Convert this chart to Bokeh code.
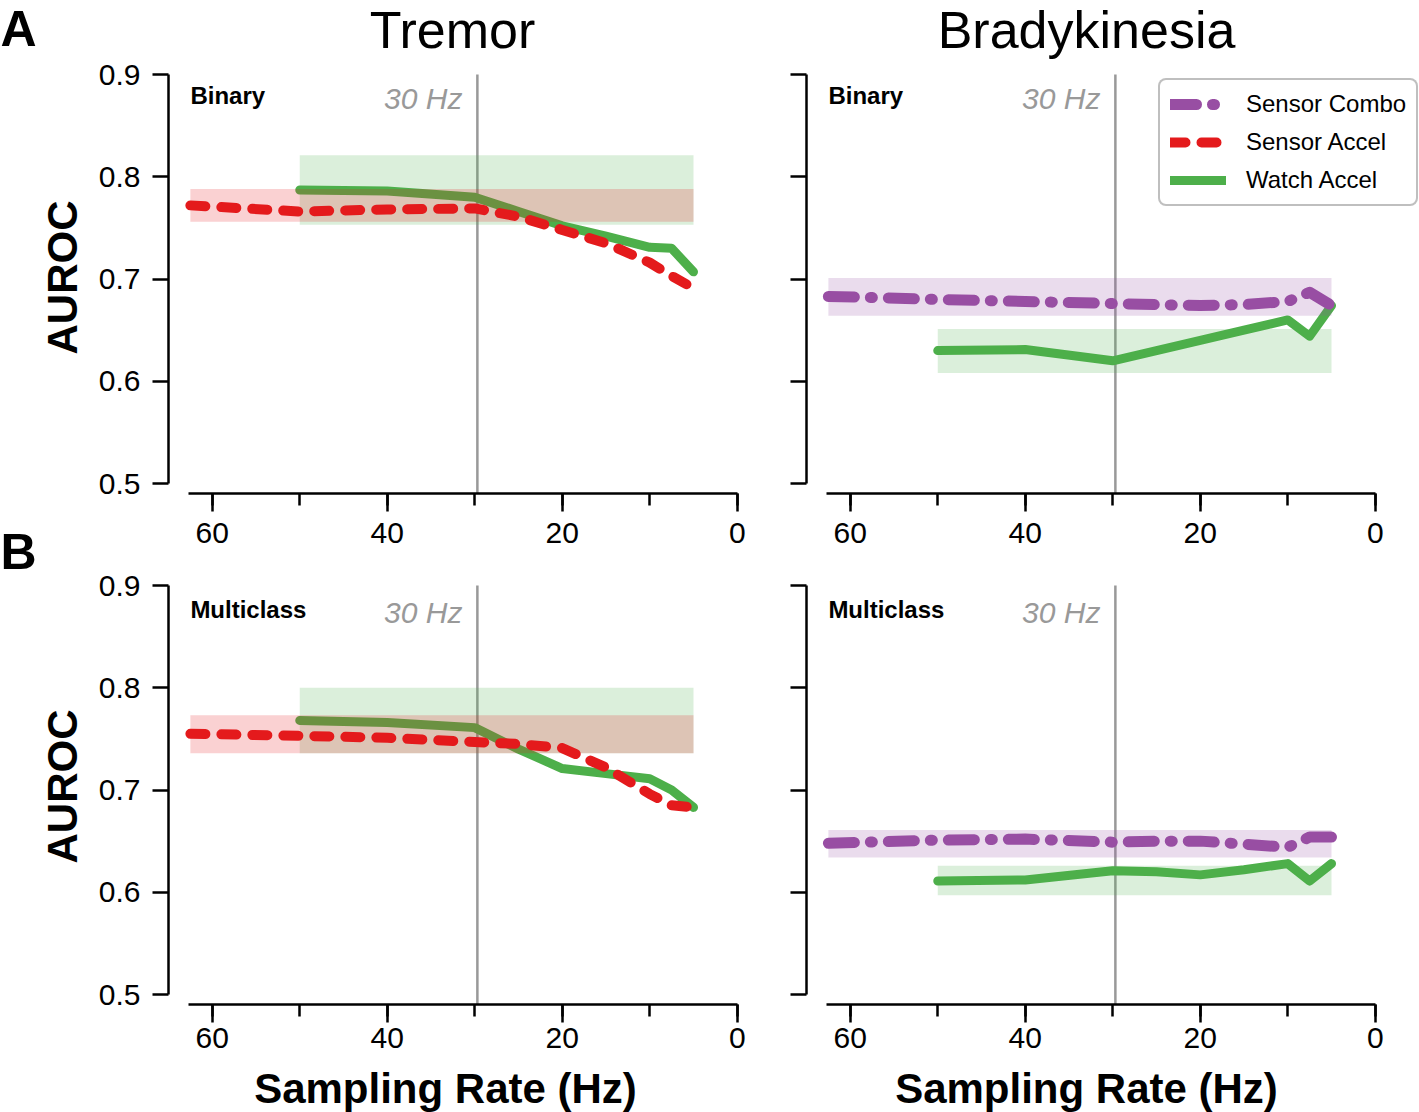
import math
from bokeh.plotting import figure
from bokeh.layouts import row, column
from bokeh.models import (Range1d, FixedTicker, SingleIntervalTicker, PrintfTickFormatter,
                          CustomJSTickFormatter, Label, Legend, LegendItem)
from bokeh.embed import file_html
from bokeh.resources import INLINE

# ---------------- data ----------------
rates_sensor = [62.5, 50, 40, 30, 25, 20, 15, 10, 7.5, 5]
rates_watch = [50, 40, 30, 25, 20, 15, 10, 7.5, 5]

tremor_bin_accel = [0.772, 0.766, 0.768, 0.769, 0.761, 0.748, 0.735, 0.716, 0.703, 0.691]
tremor_bin_watch = [0.787, 0.786, 0.780, 0.766, 0.752, 0.742, 0.731, 0.730, 0.707]
brady_bin_combo = [0.683, 0.680, 0.678, 0.676, 0.675, 0.674, 0.675, 0.678, 0.687, 0.674]
brady_bin_watch = [0.630, 0.631, 0.620, 0.630, 0.640, 0.650, 0.660, 0.644, 0.674]
tremor_multi_accel = [0.755, 0.753, 0.751, 0.747, 0.745, 0.741, 0.722, 0.696, 0.685, 0.683]
tremor_multi_watch = [0.768, 0.766, 0.761, 0.740, 0.721, 0.716, 0.711, 0.700, 0.683]
brady_multi_combo = [0.648, 0.651, 0.652, 0.649, 0.650, 0.650, 0.647, 0.644, 0.654, 0.654]
brady_multi_watch = [0.611, 0.612, 0.621, 0.620, 0.617, 0.622, 0.628, 0.611, 0.628]

# shaded bands (low, high)
tremor_bin_accel_band = [0.756, 0.788]
tremor_bin_watch_band = [0.753, 0.821]
brady_bin_combo_band = [0.664, 0.701]
brady_bin_watch_band = [0.608, 0.651]
tremor_multi_accel_band = [0.736, 0.773]
tremor_multi_watch_band = [0.736, 0.800]
brady_multi_combo_band = [0.634, 0.661]
brady_multi_watch_band = [0.597, 0.626]

y_ticks = [0.5, 0.6, 0.7, 0.8, 0.9]
ref_line_hz = 29.7
ref_label = "30 Hz"
series_names = ["Sensor Combo", "Sensor Accel", "Watch Accel"]
col_titles = ["Tremor", "Bradykinesia"]
row_letters = ["A", "B"]
row_tasks = ["Binary", "Multiclass"]
x_title = "Sampling Rate (Hz)"
y_title = "AUROC"

# ---------------- style ----------------
RED = "#E41A1C"
GREEN = "#4DAF4A"
PURPLE = "#984EA3"
GREY = "#999999"
FONT = "Liberation Sans"
PX_PER_HZ = 8.75
PX_PER_UNIT = 1022.5
X_START = 65.0
Y_LOW = 0.9 - 419 / PX_PER_UNIT
PAGE_H = 1112
LEFT_W = 90
TOP_FIG_H = 567          # 493 frame + 74 border
BOT_FRAME_H = 437
BOT_BORDER = 60

styles = {
    "Sensor Combo": dict(color=PURPLE, width=11, dash="26 16 2 16"),
    "Sensor Accel": dict(color=RED, width=10, dash="15 16"),
    "Watch Accel": dict(color=GREEN, width=9, dash="solid"),
}


def make_panel(frame_w, frame_h, y_top, b_left, b_right, b_bottom, show_ylabels, xstand):
    x_end = X_START - frame_w / PX_PER_HZ
    p = figure(frame_width=frame_w, frame_height=frame_h,
               x_range=Range1d(X_START, x_end), y_range=Range1d(Y_LOW, y_top),
               output_backend="svg", toolbar_location=None,
               min_border_left=b_left, min_border_right=b_right,
               min_border_top=0, min_border_bottom=b_bottom,
               background_fill_color="white", border_fill_color="white",
               outline_line_color=None)
    p.xgrid.visible = False
    p.ygrid.visible = False

    xa = p.xaxis[0]
    xa.ticker = SingleIntervalTicker(interval=20, num_minor_ticks=2)
    xa.bounds = (0, 62.7)
    xa.axis_line_width = 2.5
    xa.major_tick_line_width = 2.5
    xa.minor_tick_line_width = 2.5
    xa.major_tick_out = 18
    xa.major_tick_in = 0
    xa.minor_tick_out = 12
    xa.minor_tick_in = 0
    xa.major_label_text_font = FONT
    xa.major_label_text_font_size = "30px"
    xa.major_label_text_color = "black"
    xa.major_label_standoff = xstand
    xa.axis_line_color = "black"
    xa.major_tick_line_color = "black"
    xa.minor_tick_line_color = "black"

    ya = p.yaxis[0]
    ya.ticker = FixedTicker(ticks=y_ticks, minor_ticks=[])
    ya.bounds = (0.5, 0.9)
    ya.axis_line_width = 2.5
    ya.major_tick_line_width = 2.5
    ya.major_tick_out = 16
    ya.major_tick_in = 0
    ya.minor_tick_out = 0
    ya.minor_tick_in = 0
    ya.major_label_text_font = FONT
    ya.major_label_text_font_size = "30px"
    ya.major_label_text_color = "black"
    ya.major_label_standoff = 12
    ya.axis_line_color = "black"
    ya.major_tick_line_color = "black"
    if show_ylabels:
        ya.formatter = PrintfTickFormatter(format="%.1f")
    else:
        ya.formatter = CustomJSTickFormatter(code="return ''")
    return p


def text_strip(w, h, x0):
    p = figure(width=w, height=h, x_range=Range1d(x0, x0 + w), y_range=Range1d(0, h),
               output_backend="svg", toolbar_location=None,
               x_axis_type=None, y_axis_type=None,
               min_border_left=0, min_border_right=0, min_border_top=0, min_border_bottom=0,
               background_fill_color="white", border_fill_color="white",
               outline_line_color=None)
    p.xgrid.visible = False
    p.ygrid.visible = False
    return p


def add_series(p, name, rates, vals, band):
    st = styles[name]
    p.quad(left=[min(rates)], right=[max(rates)], bottom=[band[0]], top=[band[1]],
           fill_color=st["color"], fill_alpha=0.2, line_color=None)
    r = p.line(rates, vals, line_color=st["color"], line_width=st["width"],
               line_dash=st["dash"], line_cap="round", line_join="round")
    return r


def add_refline(p, row_i):
    p.segment(x0=[ref_line_hz], y0=[Y_LOW], x1=[ref_line_hz], y1=[0.9],
              line_color=GREY, line_width=2.5)
    p.add_layout(Label(x=ref_line_hz, y=0.9, x_offset=-15, y_offset=(-24 if row_i == 0 else -27),
                       text=ref_label, text_font=FONT, text_font_size="30px",
                       text_font_style="italic", text_color=GREY,
                       text_align="right", text_baseline="middle"))
    p.add_layout(Label(x=62.5, y=0.9, y_offset=(-21 if row_i == 0 else -24),
                       text=row_tasks[row_i], text_font=FONT, text_font_size="24px",
                       text_font_style="bold", text_color="black",
                       text_align="left", text_baseline="middle"))


TOP_Y = 0.9 + 74 / PX_PER_UNIT
BOT_Y = 0.9 + 18 / PX_PER_UNIT

# ---------------- top-left: Tremor binary ----------------
tl = make_panel(575, 493, TOP_Y, 78, 4, 74, True, 11)
add_refline(tl, 0)
add_series(tl, "Watch Accel", rates_watch, tremor_bin_watch, tremor_bin_watch_band)
add_series(tl, "Sensor Accel", rates_sensor, tremor_bin_accel, tremor_bin_accel_band)
tl.add_layout(Label(x=32.54, y=0.9, y_offset=45, text=col_titles[0], text_font=FONT,
                    text_font_size="52px", text_align="center", text_baseline="middle",
                    text_color="black"))

# ---------------- top-right: Bradykinesia binary ----------------
tr = make_panel(612, 493, TOP_Y, 59, 0, 74, False, 11)
add_refline(tr, 0)
r_watch = add_series(tr, "Watch Accel", rates_watch, brady_bin_watch, brady_bin_watch_band)
r_combo = add_series(tr, "Sensor Combo", rates_sensor, brady_bin_combo, brady_bin_combo_band)
st = styles["Sensor Accel"]
# legend key only (no Sensor Accel series for bradykinesia): hidden renderer
r_accel_key = tr.line(rates_sensor, tremor_bin_accel, line_color=st["color"],
                      line_width=st["width"], line_dash=st["dash"],
                      line_cap="round", line_join="round")
r_accel_key.visible = False
tr.add_layout(Label(x=33.0, y=0.9, y_offset=45, text=col_titles[1], text_font=FONT,
                    text_font_size="52px", text_align="center", text_baseline="middle",
                    text_color="black"))
legend = Legend(items=[LegendItem(label=series_names[0], renderers=[r_combo]),
                       LegendItem(label=series_names[1], renderers=[r_accel_key]),
                       LegendItem(label=series_names[2], renderers=[r_watch])],
                location=(352, 287), orientation="vertical", click_policy="none",
                label_text_font=FONT, label_text_font_size="24px", label_text_color="black",
                glyph_width=56, glyph_height=28, label_height=28, label_standoff=20,
                spacing=10, padding=10, margin=0,
                border_line_color="#808080", border_line_width=2,
                background_fill_color="white", background_fill_alpha=1.0)
try:
    legend.border_radius = 8
except Exception:
    pass
tr.add_layout(legend)

# ---------------- bottom-left: Tremor multiclass ----------------
bl = make_panel(575, BOT_FRAME_H, BOT_Y, 78, 4, BOT_BORDER, True, 5)
add_refline(bl, 1)
add_series(bl, "Watch Accel", rates_watch, tremor_multi_watch, tremor_multi_watch_band)
add_series(bl, "Sensor Accel", rates_sensor, tremor_multi_accel, tremor_multi_accel_band)

# ---------------- bottom-right: Bradykinesia multiclass ----------------
br = make_panel(612, BOT_FRAME_H, BOT_Y, 59, 0, BOT_BORDER, False, 5)
add_refline(br, 1)
add_series(br, "Watch Accel", rates_watch, brady_multi_watch, brady_multi_watch_band)
add_series(br, "Sensor Combo", rates_sensor, brady_multi_combo, brady_multi_combo_band)

# ---------------- outer texts: panel letters and axis titles ----------------
left_strip = text_strip(LEFT_W, PAGE_H, 0)
for letter, cy in zip(row_letters, [28, 551]):
    left_strip.add_layout(Label(x=0, y=PAGE_H - cy, text=letter, text_font=FONT,
                                text_font_size="50px", text_font_style="bold",
                                text_align="left", text_baseline="middle",
                                text_color="black"))
for cy in [277, 786]:
    left_strip.add_layout(Label(x=62, y=PAGE_H - cy, text=y_title, text_font=FONT,
                                text_font_size="42px", text_font_style="bold",
                                angle=math.pi / 2, text_align="center",
                                text_baseline="middle", text_color="black"))

panels_w = (78 + 575 + 4) + (59 + 612)
bottom_top = TOP_FIG_H + BOT_FRAME_H + BOT_BORDER
bottom_h = PAGE_H - bottom_top
bottom_strip = text_strip(panels_w, bottom_h, LEFT_W)
for cx in [445, 1086]:
    bottom_strip.add_layout(Label(x=cx, y=PAGE_H - 1088, text=x_title, text_font=FONT,
                                  text_font_size="42px", text_font_style="bold",
                                  text_align="center", text_baseline="middle",
                                  text_color="black"))

layout = row(left_strip, column(row(tl, tr), row(bl, br), bottom_strip))

open("out.html", "w").write(file_html(layout, INLINE, title="AUROC vs sampling rate"))
